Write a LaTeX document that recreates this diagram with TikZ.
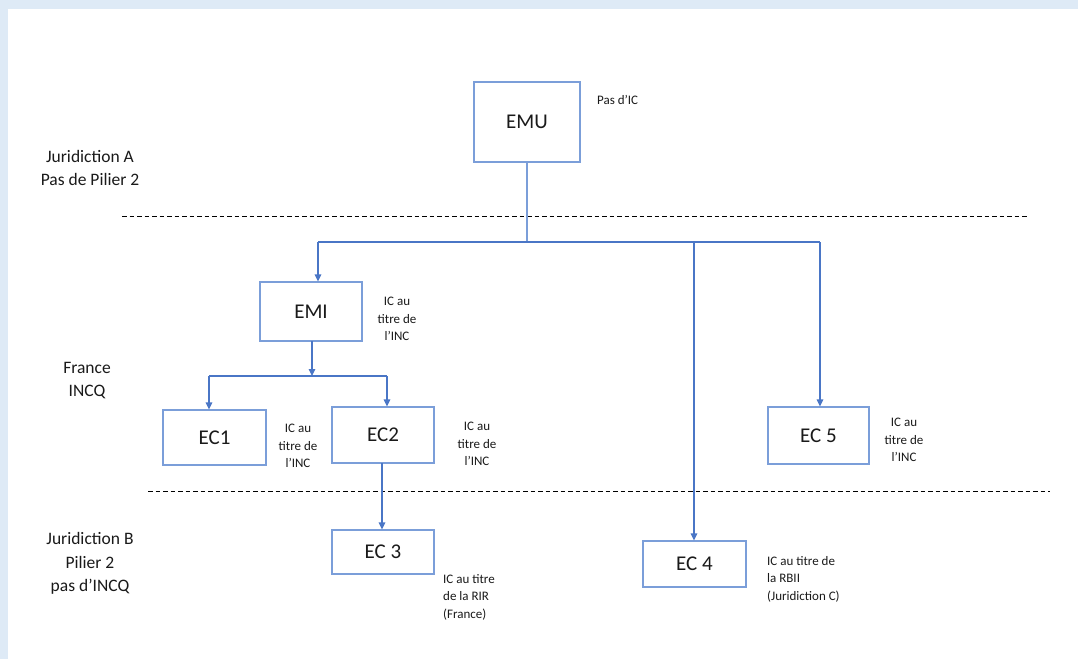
\documentclass[tikz,border=0pt]{standalone}
\usepackage{fontspec}
\setmainfont{Carlito}
\usetikzlibrary{arrows.meta}
\definecolor{frameblue}{HTML}{DEEAF6}
\definecolor{boxline}{HTML}{7B9ED9}
\definecolor{link}{HTML}{4A76C6}
\definecolor{ink}{HTML}{1A1A1A}
\tikzset{
  entity/.style={draw=boxline, line width=1.1pt, fill=white, inner sep=0pt,
    font=\fontsize{21}{24}\selectfont, text=ink},
  note/.style={align=center, inner sep=0pt, text=ink,
    font=\fontsize{13}{17.5}\selectfont},
  noteleft/.style={note, align=left, anchor=north west},
  zone/.style={align=center, inner sep=0pt, text=ink,
    font=\fontsize{17.5}{23.5}\selectfont},
  link/.style={draw=link, line width=1.2pt},
  arrow/.style={link, -{Triangle[width=6.5pt,length=7pt]}},
  border/.style={draw=black, line width=0.9pt, dash pattern=on 4.5pt off 3pt}
}
\begin{document}
\begin{tikzpicture}[x=1pt, y=-1pt]
  % page frame
  \fill[frameblue] (0,0) rectangle (1078,659);
  \fill[white] (8,9) rectangle (1078,659);
  \useasboundingbox (0,0) rectangle (1078,659);

  % jurisdiction separators
  \coordinate (sepAl) at (122,216.5);
  \coordinate (sepAr) at (1028,216.5);
  \coordinate (sepBl) at (148,491);
  \coordinate (sepBr) at (1050,491);
  \draw[border] (sepAl) -- (sepAr);
  \draw[border] (sepBl) -- (sepBr);

  % zone labels
  \node[zone] (zA) at (90,168) {Juridiction A\\Pas de Pilier 2};
  \node[zone] (zF) at (87,380.5) {France\\INCQ};
  \node[zone] (zB) at (90,563.5) {Juridiction B\\Pilier 2\\pas d’INCQ};

  % entities
  \node[entity, minimum width=106pt, minimum height=80pt] (emu) at (527,122) {EMU};
  \node[entity, minimum width=102pt, minimum height=59pt] (emi) at (311,311.5) {EMI};
  \node[entity, minimum width=103pt, minimum height=55pt] (ec1) at (214.5,437.5) {EC1};
  \node[entity, minimum width=102pt, minimum height=56pt] (ec2) at (383,435) {EC2};
  \node[entity, minimum width=102pt, minimum height=44pt] (ec3) at (383,552) {EC 3};
  \node[entity, minimum width=103pt, minimum height=46pt] (ec4) at (694.5,564) {EC 4};
  \node[entity, minimum width=101pt, minimum height=57pt] (ec5) at (818.5,435.5) {EC 5};

  % tax notes
  \node[note, anchor=west] (nEMU) at (597,100) {Pas d’IC};
  \node[note] (nEMI) at (397,319) {IC au\\titre de\\l’INC};
  \node[note] (nEC1) at (298,446) {IC au\\titre de\\l’INC};
  \node[note] (nEC2) at (477,444) {IC au\\titre de\\l’INC};
  \node[note] (nEC5) at (904,440) {IC au\\titre de\\l’INC};
  \node[noteleft] (nEC3) at (443,574) {IC au titre\\de la RIR\\(France)};
  \node[noteleft] (nEC4) at (767,556) {IC au titre de\\la RBII\\(Juridiction C)};

  % ownership links from EMU
  \coordinate (busA) at (527,242);
  \coordinate (busAl) at (318,242);
  \coordinate (busAm) at (694,242);
  \coordinate (busAr) at (820,242);
  \draw[link, draw=boxline] (emu.south) -- (busA);
  \draw[link] (busAl) -- (busAr);
  \draw[arrow] (busAl) -- (busAl |- emi.north);
  \draw[arrow] (busAm) -- (busAm |- ec4.north);
  \draw[arrow] (busAr) -- (busAr |- ec5.north);

  % ownership links from EMI
  \coordinate (emiOut) at (312,341);
  \coordinate (busE) at (312,376);
  \coordinate (busEl) at (209,376);
  \coordinate (busEr) at (387,376);
  \draw[arrow] (emiOut) -- (busE);
  \draw[link] (busEl) -- (busEr);
  \draw[arrow] (busEl) -- (busEl |- ec1.north);
  \draw[arrow] (busEr) -- (busEr |- ec2.north);

  % EC2 holds EC3
  \coordinate (ec2Out) at (382,463);
  \draw[arrow] (ec2Out) -- (ec2Out |- ec3.north);
\end{tikzpicture}
\end{document}
